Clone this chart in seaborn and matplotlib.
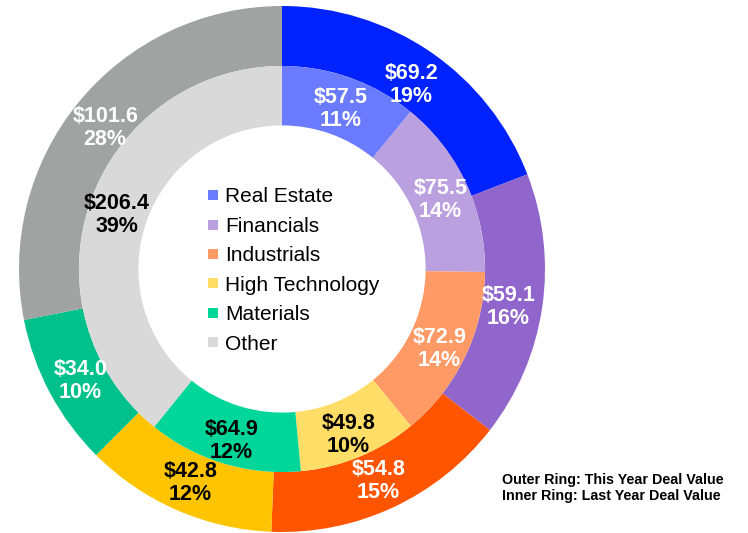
import matplotlib
matplotlib.use("Agg")
import matplotlib.pyplot as plt
from matplotlib.lines import Line2D
import seaborn as sns
import numpy as np

sns.set_theme(style="white")
plt.rcParams['font.family'] = ['Liberation Sans', 'DejaVu Sans']

categories = ["Real Estate", "Financials", "Industrials", "High Technology", "Materials", "Other"]
this_year = [69.2, 59.1, 54.8, 42.8, 34.0, 101.6]
this_year_pct = [19, 16, 15, 12, 10, 28]
last_year = [57.5, 75.5, 72.9, 49.8, 64.9, 206.4]
last_year_pct = [11, 14, 14, 10, 12, 39]

outer_colors = ["#0022FF", "#9166CC", "#FF5500", "#FFC400", "#00C08C", "#A1A3A2"]
inner_colors = ["#6B7BFF", "#BBA0E0", "#FF9966", "#FFDD66", "#00D69A", "#D9D9D9"]
outer_text = ["white", "white", "white", "black", "white", "white"]
inner_text = ["white", "white", "white", "black", "black", "black"]

W, H = 748, 533
fig = plt.figure(figsize=(W / 100, H / 100), dpi=100)
cx, cy, R = 282, 269, 263
ax = fig.add_axes([(cx - R) / W, (H - cy - R) / H, 2 * R / W, 2 * R / H])

r_mid = 0.772
r_hole = 0.546
outer_w, _ = ax.pie(this_year, radius=1.0, colors=outer_colors, startangle=90,
                    counterclock=False, wedgeprops=dict(width=1.0 - r_mid, linewidth=0))
inner_w, _ = ax.pie(last_year, radius=r_mid, colors=inner_colors, startangle=90,
                    counterclock=False, wedgeprops=dict(width=r_mid - r_hole, linewidth=0))
ax.set_xlim(-1, 1)
ax.set_ylim(-1, 1)
ax.set_aspect("equal")
ax.axis("off")

def put_labels(wedges, vals, pcts, colors, r):
    for w, v, p, c in zip(wedges, vals, pcts, colors):
        ang = np.deg2rad((w.theta1 + w.theta2) / 2)
        ax.annotate(f"${v:.1f}\n{p}%", xy=(r * np.cos(ang), r * np.sin(ang)),
                    xytext=(0, -3.2), textcoords="offset points",
                    ha="center", va="center", color=c, fontsize=15.5,
                    fontweight="bold", linespacing=1.12)

put_labels(outer_w, this_year, this_year_pct, outer_text, 0.87)
put_labels(inner_w, last_year, last_year_pct, inner_text, 0.665)

handles = [Line2D([0], [0], marker="s", linestyle="none", markersize=7.5,
                  markerfacecolor=c, markeredgewidth=0) for c in inner_colors]
leg = fig.legend(handles, categories, loc="upper left", bbox_to_anchor=(203 / W, 1 - 187.5 / H),
                 frameon=False, fontsize=15, handletextpad=0.05, labelspacing=0.5,
                 borderaxespad=0, borderpad=0, handlelength=1.0)
for t in leg.get_texts():
    t.set_color("black")

fig.text(502 / W, 1 - 488 / H, "Outer Ring: This Year Deal Value\nInner Ring: Last Year Deal Value",
         ha="left", va="center", fontsize=10.3, fontweight="bold", color="black", linespacing=1.1)

fig.savefig("out.png", dpi=100)
